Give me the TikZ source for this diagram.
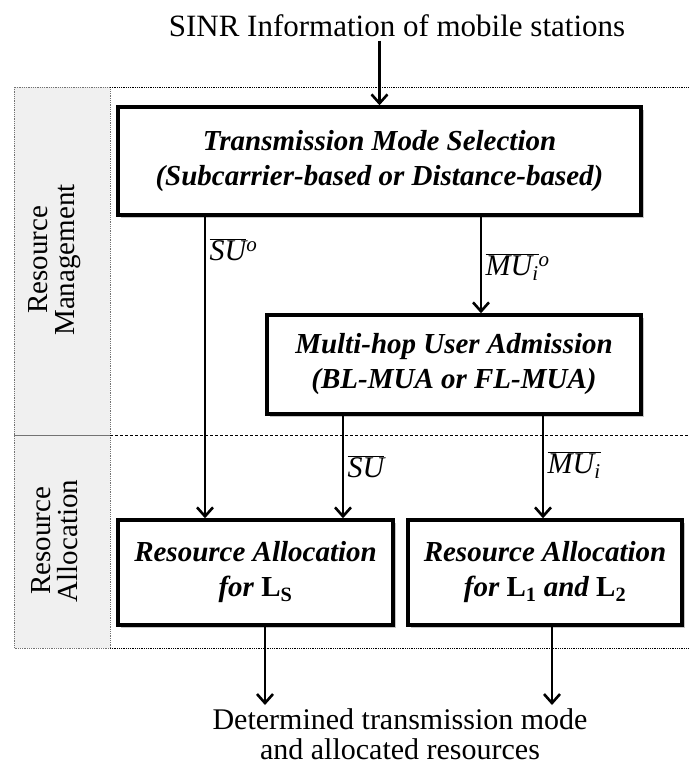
\documentclass[tikz,border=0pt]{standalone}
\usepackage{fontspec}
\setmainfont{Liberation Serif}
\usetikzlibrary{arrows.meta,shadows}
\newcommand{\barit}[1]{$\overline{\mbox{\itshape #1}}$}
\begin{document}
\begin{tikzpicture}[x=1pt,y=-1pt,
  box/.style={draw,line width=3.4pt,fill=white,align=center,
    drop shadow={shadow xshift=2.5pt,shadow yshift=-2.5pt,fill=black!45},
    font=\fontsize{29}{35}\selectfont\bfseries\itshape},
  flow/.style={-{Straight Barb[length=9pt,width=16pt,line width=2.6pt]},line width=2.6pt},
  lbl/.style={right,font=\fontsize{30}{30}\selectfont},
  txt/.style={align=center,font=\fontsize{31}{31}\selectfont}]
  \useasboundingbox (0,0) rectangle (689,766);
  % layer frames
  \filldraw [fill=black!6,draw=black!55,densely dotted,line width=0.8pt] (14,87) rectangle (110,648);
  \draw [black!55,line width=0.8pt] (14,435) -- (110,435);
  \draw [densely dotted,line width=0.8pt] (110,87) -- (689,87);
  \draw [densely dashed,line width=0.6pt] (110,435) -- (689,435);
  \draw [densely dotted,line width=0.8pt] (110,648) -- (689,648);
  \node [txt,rotate=90,font=\fontsize{29}{27}\selectfont] (rm) at (55,260) {Resource\\Management};
  \node [txt,rotate=90,font=\fontsize{29}{27}\selectfont] (ra) at (55,541) {Resource\\Allocation};
  % blocks
  \node [txt] (sinr) at (397,26) {SINR Information of mobile stations};
  \node [box,minimum width=523pt,minimum height=108pt] (tms) at (379.5,161)
    {Transmission Mode Selection\\(Subcarrier-based or Distance-based)};
  \node [box,minimum width=374pt,minimum height=99pt] (mua) at (454,364.5)
    {Multi-hop User Admission\\(BL-MUA or FL-MUA)};
  \node [box,minimum width=275pt,minimum height=105pt] (ras) at (255.5,572.5)
    {Resource Allocation\\for \upshape L\textsubscript{S}};
  \node [box,minimum width=274pt,minimum height=105pt] (ra12) at (545,572.5)
    {Resource Allocation\\for \upshape L\textsubscript{1} \itshape and \upshape L\textsubscript{2}};
  \node [txt,font=\fontsize{30}{30}\selectfont] (out) at (400,734) {Determined transmission mode\\and allocated resources};
  \coordinate (su0) at (205,0);
  \coordinate (mu0) at (481,0);
  \coordinate (su) at (343,0);
  \coordinate (mu) at (543,0);
  \coordinate (os) at (265,705);
  \coordinate (om) at (552,705);
  % flows
  \draw [flow] (sinr.south -| tms.north) -- (tms.north);
  \draw [flow] (tms.south -| su0) -- node [lbl,pos=0.11]
    {\barit{SU}\textsuperscript{\itshape o}} (ras.north -| su0);
  \draw [flow] (tms.south -| mu0) -- node [lbl,pos=0.52]
    {\barit{MU\textsubscript{i}}\textsuperscript{\itshape o}} (mua.north -| mu0);
  \draw [flow] (mua.south -| su) -- node [lbl,pos=0.5] {\barit{SU}} (ras.north -| su);
  \draw [flow] (mua.south -| mu) -- node [lbl,pos=0.48] {\barit{MU\textsubscript{i}}} (ra12.north -| mu);
  \draw [flow] (ras.south -| os) -- (os);
  \draw [flow] (ra12.south -| om) -- (om);
\end{tikzpicture}
\end{document}
